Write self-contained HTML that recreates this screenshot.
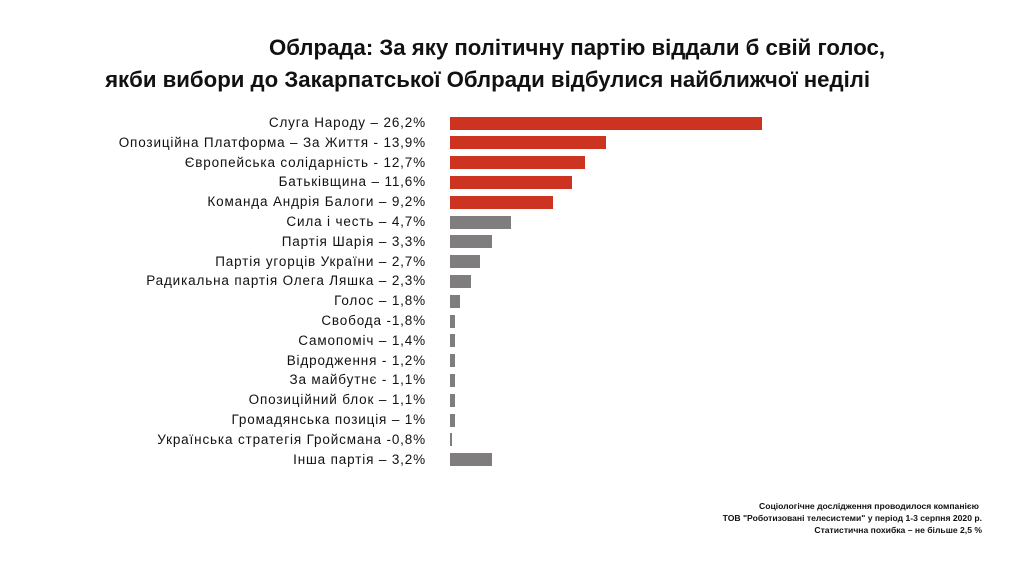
<!DOCTYPE html>
<html><head><meta charset="utf-8"><style>
body{margin:0;width:1024px;height:576px;background:#fff;font-family:"Liberation Sans",sans-serif;position:relative;overflow:hidden;color:#111}
.t{position:absolute;font-size:22.2px;font-weight:bold;white-space:nowrap;text-align:right;color:#111}
.l{position:absolute;right:598px;font-size:13.5px;letter-spacing:0.85px;white-space:nowrap;text-align:right}
.b{position:absolute;left:450px;height:13px}
.r{background:#cc3421}.g{background:#7f7d7e}
.n{position:absolute;right:42px;font-size:8.6px;font-weight:bold;text-align:right;white-space:nowrap}
</style></head><body>
<div class="t" style="top:35px;right:139px">Облрада: За яку політичну партію віддали б свій голос,</div>
<div class="t" style="top:67px;right:154px">якби вибори до Закарпатської Облради відбулися найближчої неділі</div>
<div id="c"></div>
<div class="n" style="top:501px;right:45px">Соціологічне дослідження проводилося компанією</div>
<div class="n" style="top:513px">ТОВ "Роботизовані телесистеми" у період 1-3 серпня 2020 р.</div>
<div class="n" style="top:525px">Статистична похибка – не більше 2,5 %</div>
<script>
var d=[["Слуга Народу – 26,2%",762,1],["Опозиційна Платформа – За Життя -  13,9%",606,1],["Європейська солідарність - 12,7%",585,1],["Батьківщина – 11,6%",572,1],["Команда Андрія Балоги – 9,2%",553,1],["Сила і честь – 4,7%",511],["Партія Шарія – 3,3%",492],["Партія угорців України – 2,7%",480],["Радикальна партія Олега Ляшка – 2,3%",471],["Голос – 1,8%",460],["Свобода -1,8%",455],["Самопоміч – 1,4%",455],["Відродження -  1,2%",455],["За майбутнє -  1,1%",455],["Опозиційний блок – 1,1%",455],["Громадянська позиція – 1%",455],["Українська стратегія Гройсмана -0,8%",452],["Інша партія – 3,2%",492]];
var h="";d.forEach(function(e,i){var y=123+i*19.8;h+='<div class="l" style="top:'+(y-8)+'px">'+e[0]+'</div><div class="b '+(e[2]?'r':'g')+'" style="top:'+(y-6.5)+'px;width:'+(e[1]-450)+'px"></div>'});
document.getElementById("c").innerHTML=h;
</script>
</body></html>
